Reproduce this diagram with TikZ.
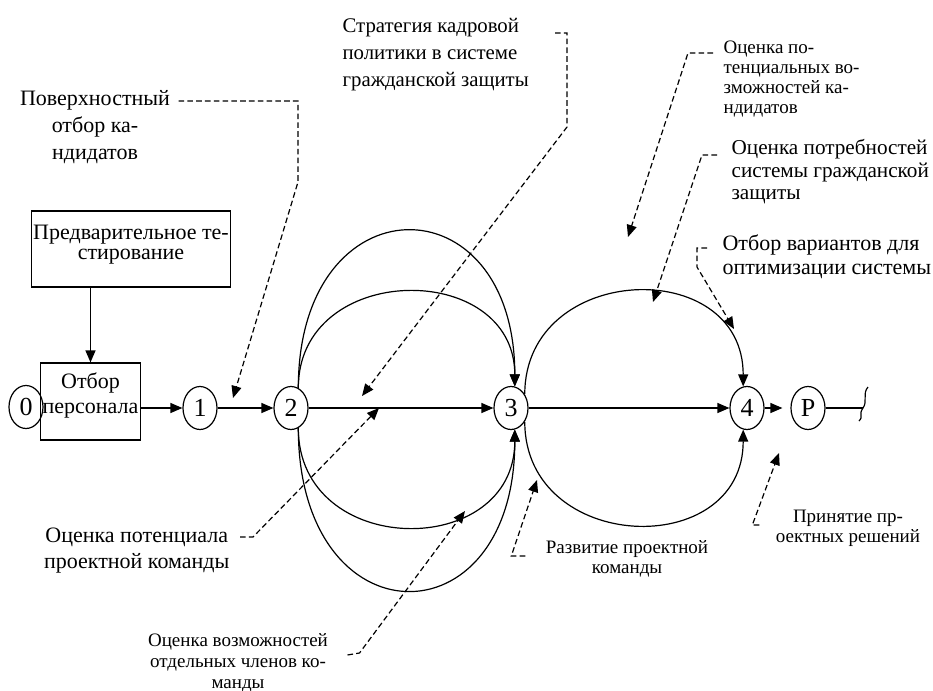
\documentclass[tikz,border=0pt]{standalone}
\usepackage{fontspec}
\setmainfont{Liberation Serif}
\usetikzlibrary{arrows.meta,shapes.geometric}

\begin{document}
\begin{tikzpicture}[
    x=0.5pt, y=-0.5pt, line width=0.6pt,
    >={Triangle[length=6pt,width=5pt]},
    event/.style={draw, ellipse, minimum width=17pt, minimum height=21.5pt, inner sep=0pt, font=\fontsize{13}{13}\selectfont},
    stage/.style={draw, rectangle, align=center, inner sep=1pt, font=\fontsize{11}{12.5}\selectfont},
    note/.style={inner sep=0pt, font=\fontsize{11}{13.5}\selectfont},
    smallnote/.style={inner sep=0pt, font=\fontsize{9.5}{10}\selectfont},
    flow/.style={->},
    hint/.style={->, dash pattern=on 2.8pt off 1.6pt},
]
    \useasboundingbox (0,0) rectangle (933,691);

    % Stages and events
    \node[event] (n0) at (26,407) {0};
    \node[stage, minimum width=45.5pt, minimum height=38.5pt] (select) at (90.5,401.5) {Отбор\\персонала\\[-4.5pt]\mbox{}};
    \node[stage, minimum width=99pt, minimum height=38pt, font=\fontsize{11}{10}\selectfont] (pretest) at (131,249) {Предварительное те-\\стирование\\[-3pt]\mbox{}};
    \node[event] (n1) at (200,408) {1};
    \node[event] (n2) at (291,408) {2};
    \node[event] (n3) at (511,408) {3};
    \node[event] (n4) at (747,408) {4};
    \node[event] (nP) at (808,408) {P};
    \coordinate (tail) at (863,408);

    % Main line
    \draw[flow] (pretest.south -| select) -- (select);
    \draw[flow] (select.east |- n1) -- (n1);
    \draw[flow] (n1) -- (n2);
    \draw[flow] (n2) -- (n3);
    \draw[flow] (n3) -- (n4);
    \draw[flow, shorten >=4pt] (n4) -- (nP);
    \draw (nP) -- (tail);
    \draw (868,387) .. controls (862,394) and (868,401) .. (tail) .. controls (858,415) and (864,416) .. (859,421);

    % Arcs
    \draw[flow] (n2.70) .. controls +(0,-208) and +(0,-208) .. (n3.80);
    \draw[flow] (n2.70) .. controls +(0,-127) and +(0,-127) .. (n3.80);
    \draw[flow] (n2.-70) .. controls +(0,215) and +(0,215) .. (n3.-80);
    \draw[flow] (n2.-70) .. controls +(0,131) and +(0,131) .. (n3.-80);
    \draw[flow] (n3.45) .. controls +(0,-132) and +(0,-132) .. (n4.100);
    \draw[flow] (n3.-45) .. controls +(0,132) and +(0,132) .. (n4.-100);

    % Labels
    \node[note, anchor=north, align=center] (surf) at (95,90) {Поверхностный\\отбор ка-\\ндидатов};
    \node[note, anchor=north west, align=left, font=\fontsize{10.4}{13.5}\selectfont] (strat) at (342,18) {Стратегия кадровой\\политики в системе\\гражданской защиты};
    \node[smallnote, anchor=north west, align=left] (potcand) at (723,40) {Оценка по-\\тенциальных во-\\зможностей ка-\\ндидатов};
    \node[note, anchor=north west, align=left, font=\fontsize{10.6}{11.3}\selectfont] (needs) at (731,139) {Оценка потребностей\\системы гражданской\\защиты};
    \node[note, anchor=north west, align=left, font=\fontsize{11}{12}\selectfont] (variants) at (722,234) {Отбор вариантов для\\оптимизации системы};
    \node[note, anchor=north east, align=center, font=\fontsize{11}{13}\selectfont] (potteam) at (230,527) {Оценка потенциала\\проектной команды};
    \node[smallnote, anchor=north, align=center, font=\fontsize{9.5}{10.5}\selectfont] (members) at (238,633) {Оценка возможностей\\отдельных членов ко-\\манды};
    \node[smallnote, anchor=north, align=center] (devel) at (627,540) {Развитие проектной\\команды};
    \node[smallnote, anchor=north, align=center] (decis) at (848,509) {Принятие пр-\\оектных решений};

    % Pointer tips
    \coordinate (tipA) at (233,398);
    \coordinate (tipB) at (362,396);
    \coordinate (tipC) at (379,408);
    \coordinate (tipD) at (465,511);
    \coordinate (tipE) at (537,480);
    \coordinate (tipF) at (779,453);
    \coordinate (tipG) at (628,237);
    \coordinate (tipH) at (653,302);
    \coordinate (tipI) at (734,329);

    % Pointers
    \draw[hint] (surf.north east) ++(8,11) -| (298,182) -- (tipA);
    \draw[hint] (strat.north west) ++(213,15) -| (567,127) -- (tipB);
    \draw[hint] (potcand.north west) ++(-10,13) -- ++(-25,0) -- (tipG);
    \draw[hint] (needs.north west) ++(-14,16) -- ++(-15,0) -- (tipH);
    \draw[hint] (variants.north west) ++(-15,14) -- ++(-10,0) -- ++(0,19) -- (tipI);
    \draw[hint] (potteam.north east) ++(10,10) -- ++(13,0) -- (tipC);
    \draw[hint] (members.north east) ++(19,22) -- ++(12,-2) -- (tipD);
    \draw[hint] (devel.north west) ++(-20,16) -- ++(-14,0) -- (tipE);
    \draw[hint] (decis.north west) ++(-16,16) -- ++(-7,0) -- (tipF);
\end{tikzpicture}
\end{document}
